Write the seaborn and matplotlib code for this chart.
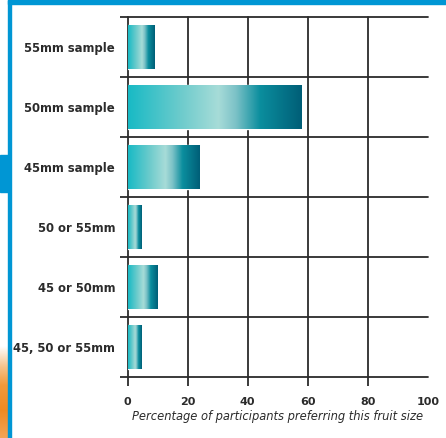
import numpy as np
import pandas as pd
import matplotlib
matplotlib.use("Agg")
import matplotlib.pyplot as plt
from matplotlib.colors import LinearSegmentedColormap
from matplotlib.patches import Rectangle
import seaborn as sns

# Preference survey: share of participants choosing each fruit size
categories = ["55mm sample", "50mm sample", "45mm sample",
              "50 or 55mm", "45 or 50mm", "45, 50 or 55mm"]
percent = [9, 58, 24, 4.6, 10, 4.6]
x_ticks = [0, 20, 40, 60, 80, 100]
x_label = "Percentage of participants preferring this fruit size"

df = pd.DataFrame({"size": categories, "percent": percent})

sns.set_theme(style="white")
plt.rcParams["font.family"] = ["DejaVu Sans"]

W, H = 446, 438
INK = "#2b2b2b"
fig = plt.figure(figsize=(W / 100, H / 100), dpi=100)
ax = fig.add_axes([127.7 / W, 1 - 377 / H, 300 / W, 360 / H])

sns.barplot(data=df, x="percent", y="size", orient="h", width=0.72,
            color="#1ab9c4", saturation=1, ax=ax)

# horizontal teal gradient painted inside every bar
bar_cmap = LinearSegmentedColormap.from_list(
    "teal_bar",
    [(0.0, "#18bac5"), (0.30, "#6ccbcc"), (0.52, "#a7dcd8"),
     (0.62, "#7cc2c7"), (0.76, "#0b8e9e"), (1.0, "#005e77")])
grad = np.linspace(0, 1, 256).reshape(1, -1)
for patch in list(ax.patches):
    x0, y0 = patch.get_x(), patch.get_y()
    w, h = patch.get_width(), patch.get_height()
    im = ax.imshow(grad, cmap=bar_cmap, aspect="auto", zorder=3,
                   extent=(x0, x0 + w, y0 + h, y0), interpolation="bilinear")
    im.set_clip_path(patch)

ax.set_xlim(0, 100)
ax.set_ylim(len(categories) - 0.5, -0.5)
for s in ax.spines.values():
    s.set_visible(False)
ax.set_axisbelow(True)

# x axis: ticks and vertical rules
ax.set_xticks(x_ticks)
ax.set_xticklabels([str(v) for v in x_ticks], fontweight="bold", color=INK)
ax.tick_params(axis="x", which="major", bottom=True, length=6.5, width=1.3,
               color=INK, pad=8, labelsize=8, direction="out")
ax.grid(True, axis="x", which="major", color=INK, linewidth=1.3)

# y axis: labels centred on bars, rules between categories
ax.set_yticks(range(len(categories)))
ax.set_yticklabels(categories, fontweight="bold", color=INK)
ax.set_yticks(np.arange(-0.5, len(categories), 1.0), minor=True)
ax.tick_params(axis="y", which="major", left=False, length=0, pad=9.1,
               labelsize=8.4)
ax.tick_params(axis="y", which="minor", left=True, length=5.8, width=1.3,
               color=INK, direction="out")
ax.grid(True, axis="y", which="minor", color=INK, linewidth=1.3)
ax.grid(False, axis="y", which="major")

ax.set_xlabel(x_label, fontstyle="italic", fontsize=8.3, color=INK,
              labelpad=2)
ax.set_ylabel("")

# no rule or tick at the 100 mark
last = ax.xaxis.get_major_ticks()[-1]
last.tick1line.set_visible(False)
last.gridline.set_visible(False)
for t in ax.xaxis.get_major_ticks() + ax.yaxis.get_minor_ticks():
    t.gridline.set_clip_on(False)

# page frame: blue header strip, side rule and tab, orange corner
blue = "#0096d4"
fig.patches.append(Rectangle((8 / W, 1 - 3.5 / H), 1 - 8 / W, 3.5 / H,
                             transform=fig.transFigure, color=blue, zorder=5))
fig.patches.append(Rectangle((8 / W, 0), 3 / W, 1,
                             transform=fig.transFigure, color=blue, zorder=5))
fig.patches.append(Rectangle((0, 1 - 192 / H), 8 / W, 37 / H,
                             transform=fig.transFigure, color=blue, zorder=5))
corner = fig.add_axes([0, 0, 8 / W, 92 / H])
corner.axis("off")
orange = LinearSegmentedColormap.from_list(
    "corner", [(0.0, "#ffffff"), (0.22, "#f7c48c"), (0.42, "#f39a3a"),
               (0.7, "#f08a22"), (1.0, "#f4a455")])
corner.imshow(np.linspace(0, 1, 128).reshape(-1, 1), cmap=orange,
              aspect="auto", extent=(0, 1, 0, 1))

fig.savefig("out.png", dpi=100)
